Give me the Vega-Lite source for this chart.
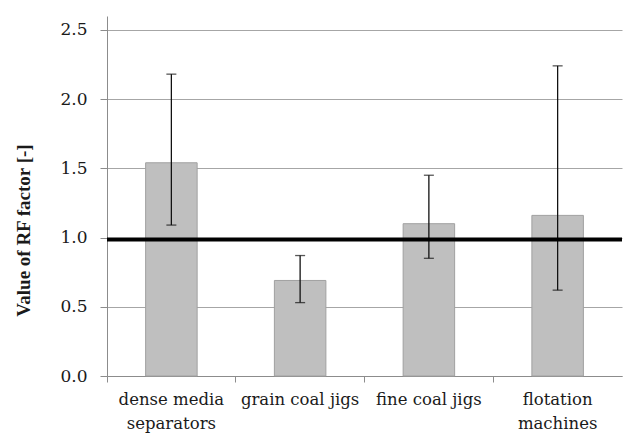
{
  "$schema": "https://vega.github.io/schema/vega-lite/v6.json",
  "width": 515,
  "height": 360,
  "autosize": "none",
  "padding": {"left": 107, "top": 16, "right": 3, "bottom": 67},
  "background": "white",
  "config": {
    "view": {"stroke": null},
    "font": "Liberation Serif"
  },
  "layer": [
    {
      "data": {
        "values": [
          {"device": "dense media|separators", "rf": 1.54, "lo": 1.09, "hi": 2.18},
          {"device": "grain coal jigs", "rf": 0.69, "lo": 0.53, "hi": 0.87},
          {"device": "fine coal jigs", "rf": 1.10, "lo": 0.85, "hi": 1.45},
          {"device": "flotation|machines", "rf": 1.16, "lo": 0.62, "hi": 2.24}
        ]
      },
      "encoding": {
        "x": {
          "field": "device",
          "type": "nominal",
          "sort": null,
          "scale": {"paddingInner": 0, "paddingOuter": 0},
          "axis": {
            "title": null,
            "labelAngle": 0,
            "labelExpr": "split(datum.label, '|')",
            "labelFont": "DejaVu Serif",
            "labelFontSize": 16.5,
            "labelColor": "#1a1a1a",
            "labelLineHeight": 24,
            "labelPadding": 9,
            "bandPosition": 0,
            "domainColor": "#8c8c8c",
            "tickColor": "#8c8c8c",
            "tickSize": 6,
            "grid": false
          }
        }
      },
      "layer": [
        {
          "mark": {"type": "bar", "width": {"band": 0.4}, "fill": "#bfbfbf", "stroke": "#a0a0a0", "strokeWidth": 1},
          "encoding": {
            "y": {
              "field": "rf",
              "type": "quantitative",
              "scale": {"domain": [0, 2.5]},
              "axis": {
                "title": "Value of RF factor [-]",
                "titleFont": "Liberation Serif",
                "titleFontSize": 19,
                "titleFontWeight": "bold",
                "titleColor": "#1a1a1a",
                "titlePadding": 26,
                "titleY": 214,
                "values": [0, 0.5, 1, 1.5, 2, 2.5],
                "format": ".1f",
                "labelFont": "DejaVu Serif",
                "labelFontSize": 17,
                "labelColor": "#1a1a1a",
                "labelPadding": 13,
                "tickSize": 7,
                "tickColor": "#8c8c8c",
                "domainColor": "#8c8c8c",
                "gridColor": "#a6a6a6",
                "gridWidth": 1
              }
            }
          }
        },
        {
          "mark": {"type": "rule", "color": "#111111", "strokeWidth": 1.3},
          "encoding": {
            "y": {"field": "lo", "type": "quantitative"},
            "y2": {"field": "hi"}
          }
        },
        {
          "mark": {"type": "tick", "color": "#111111", "size": 10, "thickness": 1.3},
          "encoding": {"y": {"field": "hi", "type": "quantitative"}}
        },
        {
          "mark": {"type": "tick", "color": "#111111", "size": 10, "thickness": 1.3},
          "encoding": {"y": {"field": "lo", "type": "quantitative"}}
        }
      ]
    },
    {
      "data": {"values": [{"ref": 0.985}]},
      "mark": {"type": "rule", "color": "#000000", "strokeWidth": 4},
      "encoding": {"y": {"field": "ref", "type": "quantitative"}}
    }
  ]
}
